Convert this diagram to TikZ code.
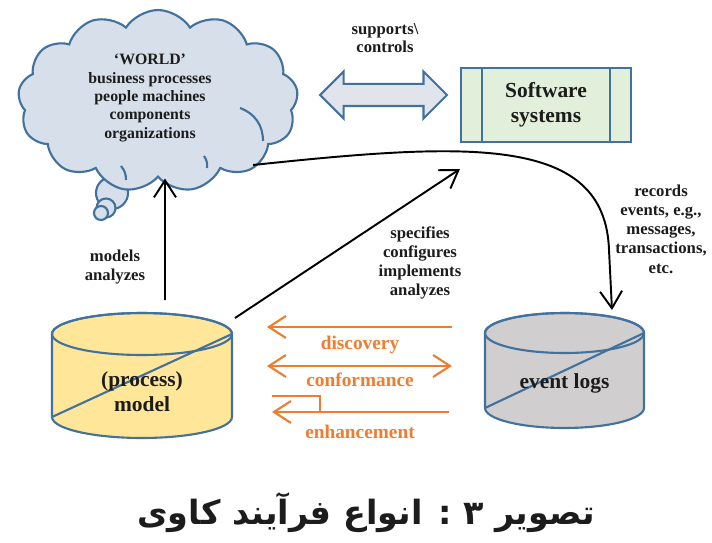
\documentclass[tikz,border=0pt]{standalone}
\usepackage{fontspec}
\setmainfont{Liberation Serif}
\newfontfamily\farsi[Script=Arabic]{DejaVu Sans}
\TeXXeTstate=1
\usetikzlibrary{arrows.meta,positioning,calc,shapes.symbols,shapes.arrows}
\definecolor{Edge}{HTML}{41719C}
\definecolor{CloudFill}{HTML}{D6DFEA}
\definecolor{ArrowFill}{HTML}{E1E5EB}
\definecolor{SysFill}{HTML}{E2EFDA}
\definecolor{ModelFill}{HTML}{FFE699}
\definecolor{LogFill}{HTML}{D0CECE}
\definecolor{Orange}{HTML}{ED7D31}
\definecolor{Ink}{HTML}{1C1C1C}
\tikzset{
 every node/.style={font=\bfseries,text=Ink},
 lbl/.style={align=center,font=\bfseries\fontsize{9.5}{10.6}\selectfont},
 blk/.style={-{Straight Barb[length=3.4mm,width=4.4mm]},line width=1.1pt},
 orng/.style={draw=Orange,line width=1.2pt},
 olbl/.style={font=\bfseries\fontsize{11}{13}\selectfont,text=Orange},
 edge/.style={draw=Edge,line width=1.2pt},
 holder/.style={inner sep=0pt,outer sep=0pt},
 big/.style={align=center,font=\bfseries\fontsize{12.2}{14.2}\selectfont},
}
\begin{document}
\begin{tikzpicture}[x=.02cm,y=.02cm]
 \useasboundingbox (0,0) rectangle (712,-543);
 % thought bubbles and cloud
 \draw[edge,fill=CloudFill] (112,-193) circle[radius=.32cm];
 \draw[edge,fill=CloudFill] (106,-208) circle[radius=.19cm];
 \draw[edge,fill=CloudFill] (101,-213) circle[radius=.14cm];
 \node[cloud,cloud puffs=13,cloud puff arc=115,cloud ignores aspect,edge,fill=CloudFill,
  minimum width=5.6cm,minimum height=3.64cm,holder](world)at(158,-101){};
 \draw[edge](240,-108)to[bend left=35](263,-141);
 \draw[edge](121,-166)to[bend left=20](126,-180);
 \draw[edge](204,-156)to[bend left=20](207,-168);
 \node[lbl,font=\bfseries\fontsize{9}{10.4}\selectfont](worldtxt)at(150,-98){`WORLD'\\business processes\\people machines\\components\\organizations};
 % software systems
 \node[big,edge,fill=SysFill,minimum width=3.4cm,minimum height=1.48cm](sw)at(546,-105){Software\\systems};
 \draw[edge]([xshift=.44cm]sw.north west)--([xshift=.44cm]sw.south west);
 \draw[edge]([xshift=-.44cm]sw.north east)--([xshift=-.44cm]sw.south east);
 \node[double arrow,double arrow head extend=.25cm,double arrow tip angle=90,edge,fill=ArrowFill,
  minimum height=2.54cm,inner xsep=0pt,inner ysep=.2cm,outer sep=0pt](sc)at(383.5,-95){};
 \node[lbl](sctxt)at(385,-38){supports\textbackslash\\controls};
 % process model
 \node[holder,minimum width=3.6cm,minimum height=2.5cm](model)at(142,-375.5){};
 \path[edge,fill=ModelFill]([yshift=-.42cm]model.north west)--([yshift=.42cm]model.south west)
  arc[start angle=180,end angle=360,x radius=1.8cm,y radius=.42cm]--([yshift=-.42cm]model.north east)
  arc[start angle=0,end angle=180,x radius=1.8cm,y radius=.42cm]--cycle;
 \draw[edge]([yshift=-.42cm]model.north)ellipse[x radius=1.8cm,y radius=.42cm];
 \draw[edge]([yshift=.42cm]model.south west)--([yshift=-.42cm]model.north east);
 \node[big](modeltxt)at([yshift=-.33cm]model.center){(process)\\model};
 % event logs
 \node[holder,minimum width=3.18cm,minimum height=2.3cm](logs)at(564.5,-370.5){};
 \path[edge,fill=LogFill]([yshift=-.4cm]logs.north west)--([yshift=.4cm]logs.south west)
  arc[start angle=180,end angle=360,x radius=1.59cm,y radius=.4cm]--([yshift=-.4cm]logs.north east)
  arc[start angle=0,end angle=180,x radius=1.59cm,y radius=.4cm]--cycle;
 \draw[edge]([yshift=-.4cm]logs.north)ellipse[x radius=1.59cm,y radius=.4cm];
 \draw[edge]([yshift=.4cm]logs.south west)--([yshift=-.4cm]logs.north east);
 \node[big](logstxt)at([yshift=-.25cm]logs.center){event logs};
 % black connectors
 \draw[blk]([xshift=.46cm,yshift=.26cm]model.north)--([xshift=.14cm,yshift=-.04cm]world.south);
 \node[lbl](mtxt)at(115,-267){models\\analyzes};
 \draw[blk]([xshift=.06cm,yshift=-.1cm]model.north east)--([yshift=-.52cm]sw.south west);
 \node[lbl,font=\bfseries\fontsize{9.5}{10.8}\selectfont](stxt)at(420,-263){specifies\\configures\\implements\\analyzes};
 \coordinate(rec0)at(253,-165);
 \draw[blk](rec0)..controls(470,-142)and(605,-135)..(609,-250)--([xshift=.95cm,yshift=.06cm]logs.north);
 \node[lbl,font=\bfseries\fontsize{9.5}{11}\selectfont](rtxt)at(661,-229){records\\events, e.g.,\\messages,\\transactions,\\etc.};
 % orange arrows
 \coordinate(d0)at(267,-327);\coordinate(d1)at(452,-327);
 \coordinate(c0)at(267,-366);\coordinate(c1)at(452,-366);
 \coordinate(e0)at(272,-412);\coordinate(e1)at(449,-412);
 \draw[orng,-{Straight Barb[length=3.4mm,width=4.4mm]}](d1)--(d0);
 \draw[orng,{Straight Barb[length=3.4mm,width=4.4mm]}-{Straight Barb[length=3.4mm,width=4.4mm]}](c0)--(c1);
 \draw[orng,-{Straight Barb[length=3.4mm,width=4.4mm]}](e1)--(e0);
 \draw[orng]([yshift=.32cm]e0)-|([xshift=.96cm]e0);
 \node[olbl](disc)at(360,-345){discovery};
 \node[olbl](conf)at(360,-380){conformance};
 \node[olbl](enh)at(360,-432){enhancement};
 % caption
 \node[font=\farsi\bfseries\fontsize{19}{23}\selectfont](cap)at(366,-513){\beginR تصویر ۳ : انواع فرآیند کاوی\endR};
\end{tikzpicture}
\end{document}
